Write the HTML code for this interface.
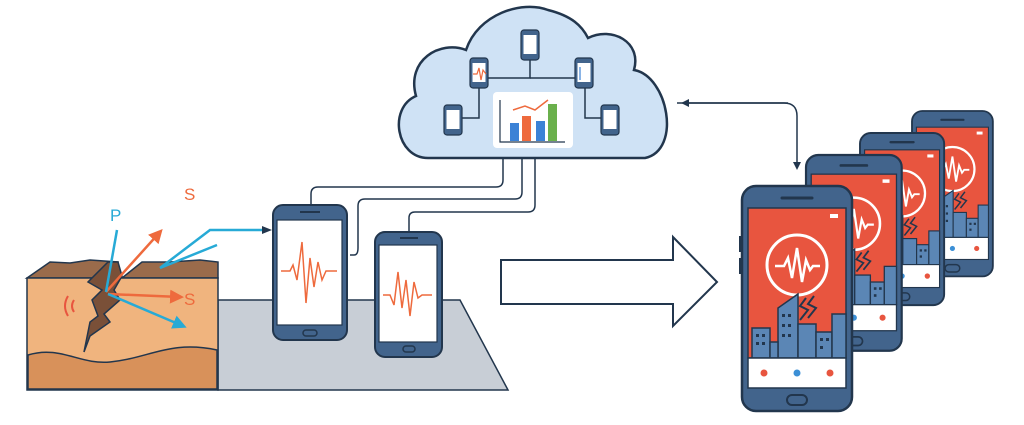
<!DOCTYPE html>
<html><head><meta charset="utf-8"><style>html,body{margin:0;padding:0;background:#fff}svg{display:block}</style></head><body>
<svg width="1024" height="425" viewBox="0 0 1024 425" xmlns="http://www.w3.org/2000/svg" font-family="Liberation Sans, sans-serif">
<defs>
<g id="ph">
<rect x="0" y="0" width="110" height="225" rx="14" fill="#42648c" stroke="#22364d" stroke-width="2.5"/>
<rect x="-3" y="50" width="4" height="16" fill="#22364d"/><rect x="-3" y="72" width="4" height="16" fill="#22364d"/>
<line x1="40" y1="12" x2="70" y2="12" stroke="#22364d" stroke-width="3" stroke-linecap="round"/>
<rect x="6" y="22" width="98" height="150" fill="#e8553f" stroke="#22364d" stroke-width="1.5"/>
<rect x="88" y="28" width="8" height="4" fill="#fff"/>
<circle cx="55" cy="79" r="30" fill="none" stroke="#fff" stroke-width="3"/>
<polyline points="33,80 42,80 46,72 50,92 55,62 60,96 64,74 68,84 71,80 78,80" fill="none" stroke="#fff" stroke-width="2.5"/>
<g fill="#5b86b5" stroke="#22364d" stroke-width="1.5">
<rect x="10" y="142" width="18" height="30"/>
<polygon points="36,172 36,122 56,108 56,172"/>
<rect x="56" y="138" width="18" height="34"/>
<rect x="74" y="146" width="16" height="26"/>
<rect x="90" y="128" width="14" height="44"/>
<rect x="28" y="156" width="8" height="16"/>
</g>
<g fill="#22364d"><rect x="14" y="148" width="3" height="3"/><rect x="20" y="148" width="3" height="3"/><rect x="14" y="156" width="3" height="3"/><rect x="20" y="156" width="3" height="3"/><rect x="40" y="128" width="3" height="3"/><rect x="46" y="128" width="3" height="3"/><rect x="40" y="138" width="3" height="3"/><rect x="46" y="138" width="3" height="3"/><rect x="40" y="148" width="3" height="3"/><rect x="46" y="148" width="3" height="3"/><rect x="78" y="152" width="3" height="3"/><rect x="84" y="152" width="3" height="3"/><rect x="78" y="160" width="3" height="3"/></g>
<polyline points="64,112 58,120 66,124 58,134" fill="none" stroke="#22364d" stroke-width="2"/>
<polyline points="72,110 66,118 74,122 66,132" fill="none" stroke="#22364d" stroke-width="2"/>
<rect x="6" y="172" width="98" height="30" fill="#fff" stroke="#22364d" stroke-width="1.5"/>
<circle cx="22" cy="187" r="3.5" fill="#e8553f"/><circle cx="55" cy="187" r="3.5" fill="#3b8fd6"/><circle cx="88" cy="187" r="3.5" fill="#e8553f"/>
<rect x="45" y="209" width="20" height="10" rx="5" fill="none" stroke="#22364d" stroke-width="2"/>
</g>
<g id="sp">
<rect x="0" y="0" width="18" height="30" rx="3" fill="#42648c" stroke="#22364d" stroke-width="1.2"/>
<rect x="2.5" y="5" width="13" height="19" fill="#fff"/>
</g>
<marker id="ah" markerWidth="8" markerHeight="8" refX="6" refY="4" orient="auto" markerUnits="userSpaceOnUse"><path d="M0,0 L8,4 L0,8 z" fill="#22364d"/></marker>
<marker id="ao" markerWidth="14" markerHeight="14" refX="10" refY="7" orient="auto" markerUnits="userSpaceOnUse"><path d="M0,0 L14,7 L0,14 z" fill="#ee6a3d"/></marker>
<marker id="ac" markerWidth="14" markerHeight="14" refX="10" refY="7" orient="auto" markerUnits="userSpaceOnUse"><path d="M0,0 L14,7 L0,14 z" fill="#27aad6"/></marker>
</defs>

<!-- cloud -->
<path d="M428,158 C396,158 388,108 416,96 C406,60 440,40 466,50 C478,14 522,0 548,10 C572,16 582,26 588,38 C612,26 642,42 634,70 C668,76 682,150 645,158 Z" fill="#cfe2f5" stroke="#22364d" stroke-width="2.5"/>
<g stroke="#22364d" stroke-width="1.5" fill="none">
<polyline points="488,78 530,78 530,60"/>
<polyline points="530,78 575,78"/>
<polyline points="479,88 479,118 462,118"/>
<polyline points="585,88 585,118 601,118"/>
</g>
<use href="#sp" x="521" y="30"/>
<use href="#sp" x="470" y="58"/>
<use href="#sp" x="575" y="58"/>
<use href="#sp" x="444" y="105"/>
<use href="#sp" x="601" y="105"/>
<polyline points="473,74 477,74 479,68 481,80 483,70 486,74" fill="none" stroke="#ee6a3d" stroke-width="1.2"/>
<polyline points="580,67 580,80 M586,67 586,80" fill="none" stroke="#3b82d6" stroke-width="1.2"/>
<rect x="493" y="92" width="80" height="56" rx="4" fill="#fff"/>
<polyline points="500,100 500,142 565,142" fill="none" stroke="#22364d" stroke-width="1.2"/>
<rect x="510" y="123" width="9" height="18" fill="#3b82d6"/>
<rect x="522" y="116" width="9" height="25" fill="#ee6a3d"/>
<rect x="536" y="121" width="9" height="20" fill="#3b82d6"/>
<rect x="548" y="104" width="9" height="37" fill="#6ab04c"/>
<polyline points="513,110 525,106 535,110 548,100" fill="none" stroke="#ee6a3d" stroke-width="1.5"/>

<!-- cloud lines to phones -->
<g stroke="#22364d" stroke-width="1.5" fill="none">
<path d="M311,205 L311,194 Q311,187 318,187 L496,187 Q503,187 503,180 L503,158"/>
<path d="M350,255 L354,255 Q358,255 358,248 L358,206 Q358,199 365,199 L515,199 Q522,199 522,192 L522,158"/>
<path d="M409,232 L409,218 Q409,212 415,212 L528,212 Q535,212 535,205 L535,157"/>
<path d="M677,103 L784,103 Q797,103 797,116 L797,168" marker-end="url(#ah)"/>
<path d="M788,103 L683,103" marker-end="url(#ah)"/>
</g>

<!-- ground -->
<polygon points="218,300 460,300 508,390 218,390" fill="#c8ced6" stroke="#22364d" stroke-width="1.5"/>
<polygon points="27,278 50,262 70,263 90,260 118,262 118,278" fill="#9a6b4b" stroke="#22364d" stroke-width="1.5"/>
<polygon points="122,278 142,262 170,262 200,260 218,262 218,278" fill="#9a6b4b" stroke="#22364d" stroke-width="1.5"/>
<rect x="27" y="278" width="191" height="112" fill="#f0b47e" stroke="#22364d" stroke-width="1.5"/>
<path d="M28,355 C60,345 80,365 110,362 C150,358 170,340 217,350 L217,389 L28,389 Z" fill="#d8915a" stroke="#22364d" stroke-width="1.5"/>
<polygon points="108,262 118,262 122,276 114,290 120,300 104,314 110,322 90,336 84,352 90,322 98,316 92,300 102,290 88,282" fill="#7a5038" stroke="#22364d" stroke-width="1.5"/>
<path d="M68,296 Q62,306 68,316 M74,300 Q70,306 74,312" stroke="#e8553f" stroke-width="2" fill="none"/>
<g stroke-width="2.5" fill="none">
<line x1="106" y1="292" x2="160" y2="232" stroke="#ee6a3d" marker-end="url(#ao)"/>
<line x1="106" y1="292" x2="117" y2="230" stroke="#27aad6"/>
<line x1="108" y1="294" x2="180" y2="297" stroke="#ee6a3d" marker-end="url(#ao)"/>
<line x1="108" y1="294" x2="183" y2="326" stroke="#27aad6" marker-end="url(#ac)"/>
<polyline points="160,268 210,230 265,230" stroke="#27aad6"/>
<line x1="160" y1="268" x2="217" y2="245" stroke="#27aad6"/>
</g>
<path d="M262,226 L272,230 L262,234 Z" fill="#22364d"/>
<text x="110" y="221" font-size="17" fill="#27aad6">P</text>
<text x="184" y="200" font-size="17" fill="#ee6a3d">S</text>
<text x="184" y="305" font-size="17" fill="#ee6a3d">S</text>

<!-- left phones -->
<g stroke="#22364d">
<rect x="273" y="205" width="74" height="135" rx="10" fill="#42648c" stroke-width="2"/>
<rect x="277" y="220" width="65" height="105" fill="#fff" stroke-width="1.2"/>
<rect x="303" y="330" width="14" height="6" rx="3" fill="none" stroke-width="1.5"/>
<line x1="300" y1="212" x2="320" y2="212" stroke-width="2"/>
<rect x="375" y="232" width="67" height="125" rx="10" fill="#42648c" stroke-width="2"/>
<rect x="379" y="245" width="58" height="97" fill="#fff" stroke-width="1.2"/>
<rect x="403" y="346" width="12" height="6" rx="3" fill="none" stroke-width="1.5"/>
<line x1="400" y1="238" x2="418" y2="238" stroke-width="2"/>
</g>
<polyline points="281,271 290,271 293,265 297,280 302,242 306,303 310,258 314,287 318,262 322,280 326,271 337,271" fill="none" stroke="#ee6a3d" stroke-width="1.5"/>
<polyline points="383,295 390,295 394,305 398,272 402,308 406,280 410,316 414,282 418,298 422,295 432,295" fill="none" stroke="#ee6a3d" stroke-width="1.5"/>

<!-- big arrow -->
<polygon points="501,260 673,260 673,237 717,282 673,326 673,304 501,304" fill="#fff" stroke="#22364d" stroke-width="2"/>

<!-- right phones -->
<use href="#ph" transform="translate(912,111) scale(0.735)"/>
<use href="#ph" transform="translate(860,133) scale(0.765)"/>
<use href="#ph" transform="translate(806,155) scale(0.87)"/>
<use href="#ph" transform="translate(742,186) scale(1.0)"/>
</svg>
</body></html>
